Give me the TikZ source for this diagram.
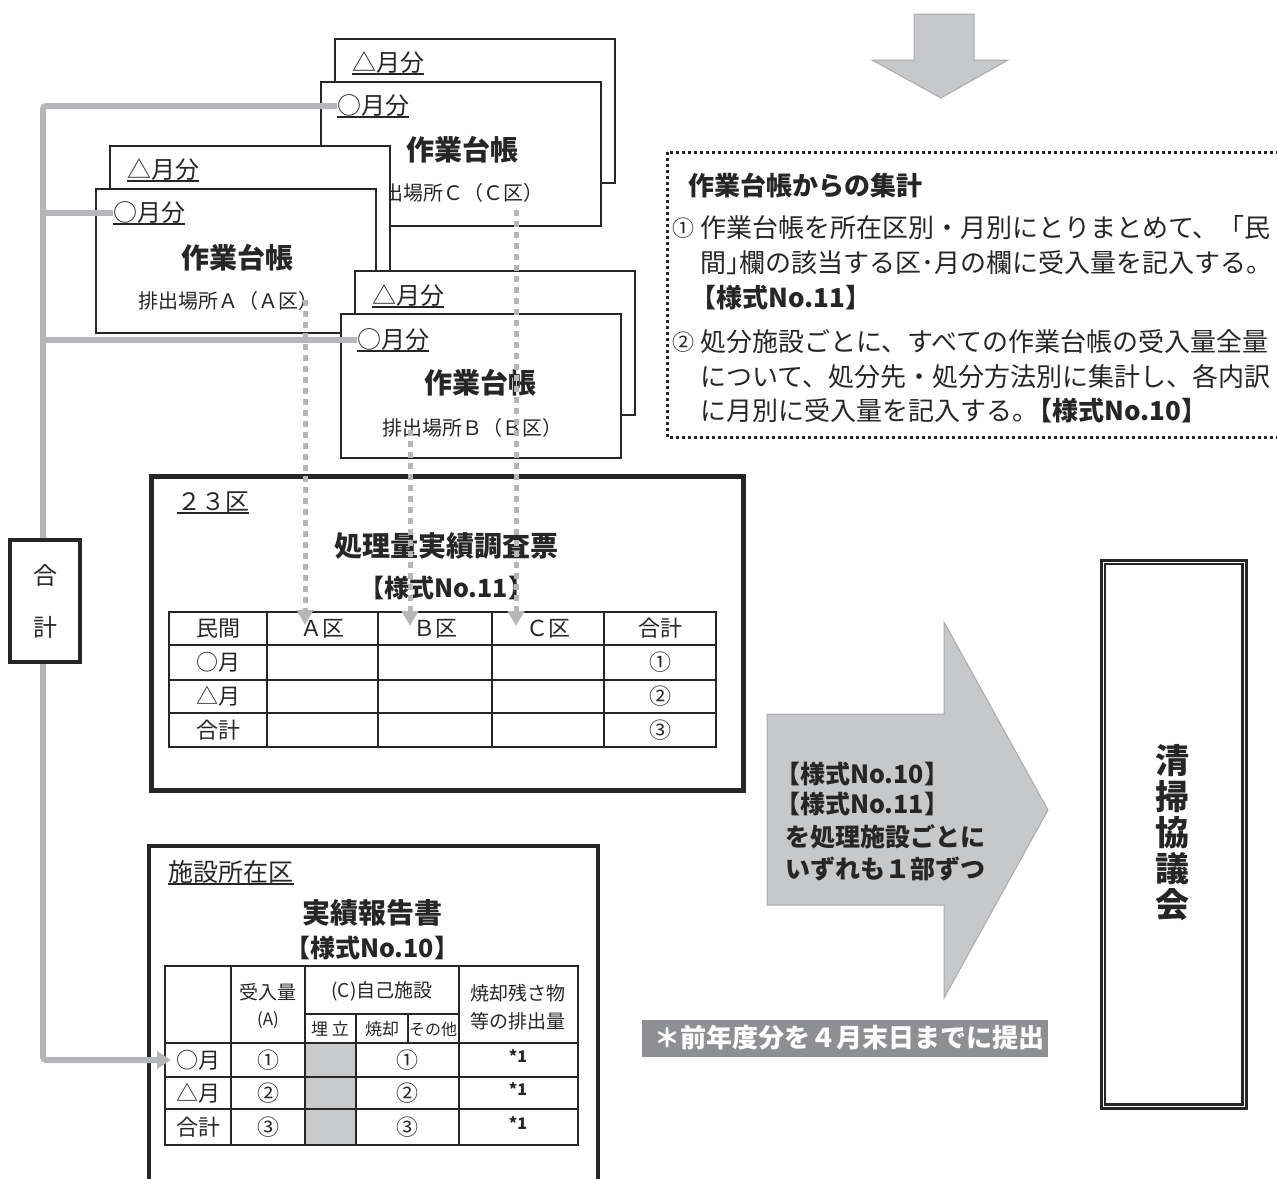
\documentclass[tikz,border=0pt]{standalone}
\usepackage{fontspec}
\setmainfont{Noto Sans CJK JP}
\usetikzlibrary{arrows.meta}
\definecolor{ink}{HTML}{262626}
\definecolor{lnk}{HTML}{B5B6B9}
\definecolor{afill}{HTML}{C7C8CA}
\definecolor{aline}{HTML}{A9AAAD}
\definecolor{barg}{HTML}{8E8F93}
\definecolor{cellg}{HTML}{C9CACC}
\newcommand\jsz[2]{\fontsize{#1}{#2}\selectfont}
\begin{document}
\begin{tikzpicture}[x=1pt,y=-1pt,
 every node/.style={inner sep=0pt, text=ink},
 card/.style={draw=ink, line width=2, fill=white, minimum width=280, minimum height=144, anchor=north west},
 mon/.style={font=\jsz{24}{28}, anchor=west},
 ttl/.style={font=\jsz{28}{32}\bfseries},
 loc/.style={font=\jsz{20}{24}},
 ul/.style={draw=ink, line width=2},
 gline/.style={draw=lnk, line width=6},
 dline/.style={draw=lnk, line width=5, dash pattern=on 6pt off 5pt, -{Triangle[length=15pt,width=16pt]}},
 tab/.style={draw=ink, line width=2.5},
 cell/.style={font=\jsz{22}{26}},
 hd/.style={font=\jsz{19}{22}},
 txt/.style={font=\jsz{26}{30}, anchor=west},
 bt/.style={font=\jsz{25}{28}\bfseries},
 ]
\useasboundingbox (0,0) rectangle (1277,1178);

% ---------- work ledgers: C ----------
\node[card] (cB) at (334,38) {};
\node[mon] (cTri) at (352,63) {△月分};
\draw[ul] (cTri.south west) -- (cTri.south east);
\node[card] (cF) at (320,81) {};
\node[mon] (cMon) at (337,106) {○月分};
\draw[ul] (cMon.south west) -- (cMon.south east);
\node[ttl] (cTtl) at (462,150) {作業台帳};
\node[loc] (cLoc) at (453,193) {排出場所Ｃ（Ｃ区）};

% ---------- A ----------
\node[card] (aB) at (109,145) {};
\node[mon] (aTri) at (127,170) {△月分};
\draw[ul] (aTri.south west) -- (aTri.south east);
\node[card] (aF) at (95,188) {};
\node[mon] (aMon) at (113,213) {○月分};
\draw[ul] (aMon.south west) -- (aMon.south east);
\node[ttl] (aTtl) at (237,258) {作業台帳};
\node[loc] (aLoc) at (228,301) {排出場所Ａ（Ａ区）};

% ---------- B ----------
\node[card] (bB) at (354,270) {};
\node[mon] (bTri) at (372,296) {△月分};
\draw[ul] (bTri.south west) -- (bTri.south east);
\node[card] (bF) at (340,313) {};
\node[mon] (bMon) at (357,340) {○月分};
\draw[ul] (bMon.south west) -- (bMon.south east);
\node[ttl] (bTtl) at (480,383) {作業台帳};
\node[loc] (bLoc) at (472,428) {排出場所Ｂ（Ｂ区）};

% ---------- 23区 box ----------
\node[draw=ink, line width=5, fill=white, minimum width=592, minimum height=314, anchor=north west] (k23) at (149,474) {};
\node[font=\jsz{24}{28}] (k23l) at (213,502) {２３区};
\draw[ul] (k23l.south west) -- (k23l.south east);
\node[ttl] (k23t) at (446,546) {処理量実績調査票};
\node[bt] (k23f) at (446,588) {【様式No.11】};
\draw[tab] (169,612) rectangle (716,747);
\foreach \yy in {645,680,713} \draw[tab] (169,\yy) -- (716,\yy);
\foreach \xx in {267,378,492,604} \draw[tab] (\xx,612) -- (\xx,747);
\node[cell] (h0) at (218,628.5) {民間};
\node[cell] (h1) at (322.5,628.5) {Ａ区};
\node[cell] (h2) at (435,628.5) {Ｂ区};
\node[cell] (h3) at (548,628.5) {Ｃ区};
\node[cell] (h4) at (660,628.5) {合計};
\node[cell] (m1) at (218,662.5) {○月};
\node[cell] (m2) at (218,696.5) {△月};
\node[cell] (m3) at (218,730) {合計};
\node[cell] (s1) at (660,662.5) {①};
\node[cell] (s2) at (660,696.5) {②};
\node[cell] (s3) at (660,730) {③};

% ---------- 実績報告書 box ----------
\node[draw=ink, line width=4, fill=white, minimum width=449, minimum height=370, anchor=north west] (jh) at (147,844) {};
\node[font=\jsz{25}{28}] (jhl) at (231,872) {施設所在区};
\draw[ul] (jhl.south west) -- (jhl.south east);
\node[ttl] (jht) at (372,913) {実績報告書};
\node[bt] (jhf) at (372,948) {【様式No.10】};
\fill[cellg] (305,1043) rectangle (356,1145);
\draw[tab] (165,966) rectangle (578,1145);
\foreach \xx in {231,305,459} \draw[tab] (\xx,966) -- (\xx,1145);
\draw[tab] (356,1014) -- (356,1145);
\draw[tab] (408,1014) -- (408,1043);
\draw[tab] (305,1014) -- (459,1014);
\foreach \yy in {1043,1077,1109} \draw[tab] (165,\yy) -- (578,\yy);
\node[hd] (q1) at (268,992) {受入量};
\node[font=\jsz{17}{20}] (q2) at (268,1020) {(A)};
\node[hd] (q3) at (382,991) {(C)自己施設};
\node[font=\jsz{17}{20}] (q4) at (330,1029) {埋 立};
\node[font=\jsz{17}{20}] (q5) at (382,1029) {焼却};
\node[font=\jsz{16}{20}] (q6) at (433,1029) {その他};
\node[hd] (q7) at (518,993) {焼却残さ物};
\node[hd] (q8) at (518,1021) {等の排出量};
\node[cell] (r1) at (198,1060) {○月};
\node[cell] (r2) at (198,1093) {△月};
\node[cell] (r3) at (198,1127) {合計};
\foreach \n/\yy/\c in {1/1060/①,2/1093/②,3/1127/③}{
  \node[cell] (ra\n) at (268,\yy) {\c};
  \node[cell] (rb\n) at (407,\yy) {\c};
  \node[font=\jsz{16}{18}\bfseries] (rc\n) at (518,\yy-4) {*1};
}

% ---------- gray collection lines ----------
\coordinate (trk) at (43,0);
\coordinate (r1tip) at (171,1060);
\draw[gline, rounded corners=3, -{Triangle[length=14pt,width=17pt]}] (cMon.west) -- (cMon.west -| trk) -- (trk |- r1tip) -- (r1tip);
\draw[gline] (aMon.west) -- (aMon.west -| trk);
\draw[gline] (bMon.west) -- (bMon.west -| trk);

% ---------- dotted arrows into 23区 table ----------
\coordinate (aS) at (305,300); \coordinate (aE) at (305,625);
\coordinate (bS) at (410,430); \coordinate (bE) at (410,626);
\coordinate (cS) at (516,210); \coordinate (cE) at (516,626);
\draw[dline] (aS) -- (aE);
\draw[dline] (bS) -- (bE);
\draw[dline] (cS) -- (cE);

% ---------- 合計 box ----------
\node[draw=ink, line width=4, fill=white, minimum width=70, minimum height=122, align=center, font=\jsz{24}{52}] (gk) at (45,601) {合\\計};

% ---------- top down arrow ----------
\draw[fill=afill, draw=aline, line width=1] (914,14) -- (974,14) -- (974,60) -- (1008,60) -- (941,98) -- (872,60) -- (914,60) -- cycle;

% ---------- dotted summary box ----------
\draw[draw=ink, line width=3, dash pattern=on 3pt off 3pt] (667,152) rectangle (1300,437);
\node[txt, font=\jsz{26}{30}\bfseries] (sT) at (688,186) {作業台帳からの集計};
\node[txt, font=\jsz{22}{26}] (n1) at (672,228) {①};
\node[txt] (p1a) at (700,228) {作業台帳を所在区別・月別にとりまとめて、「民};
\node[txt] (p1b) at (700,263) {間」\kern-13pt 欄の該当する区･月の欄に受入量を記入する。};
\node[txt, font=\jsz{26}{30}\bfseries] (p1c) at (690,298) {【様式No.11】};
\node[txt, font=\jsz{22}{26}] (n2) at (672,342) {②};
\node[txt] (p2a) at (700,342) {処分施設ごとに、すべての作業台帳の受入量全量};
\node[txt] (p2b) at (700,377) {について、処分先・処分方法別に集計し、各内訳};
\node[txt] (p2c) at (700,411) {に月別に受入量を記入する。\kern-12pt\textbf{【様式No.10】}};

% ---------- big right arrow ----------
\draw[fill=afill, draw=aline, line width=1] (767,714) -- (944,714) -- (944,622) -- (1048,810) -- (944,998) -- (944,905) -- (767,905) -- cycle;
\node[bt] (f10) at (862,774) {【様式No.10】};
\node[bt] (f11) at (862,804) {【様式No.11】};
\node[bt] (fa) at (885,837) {を処理施設ごとに};
\node[bt] (fb) at (885,869) {いずれも１部ずつ};

% ---------- deadline bar ----------
\node[fill=barg, minimum width=406, minimum height=37, anchor=north west] (bar) at (642,1020) {};
\node[text=white, font=\jsz{26}{28}\bfseries] (barT) at (849,1038) {＊前年度分を４月末日までに提出};

% ---------- 清掃協議会 ----------
\node[draw=ink, line width=2.5, minimum width=145, minimum height=548, anchor=north west] (sk) at (1100,559) {};
\draw[draw=ink, line width=2.5] ([xshift=5pt,yshift=-5pt]sk.north west) rectangle ([xshift=-5pt,yshift=5pt]sk.south east);
\node[font=\jsz{34}{36}\bfseries, align=center] (skT) at (1172,833) {清\\掃\\協\\議\\会};
\end{tikzpicture}
\end{document}
